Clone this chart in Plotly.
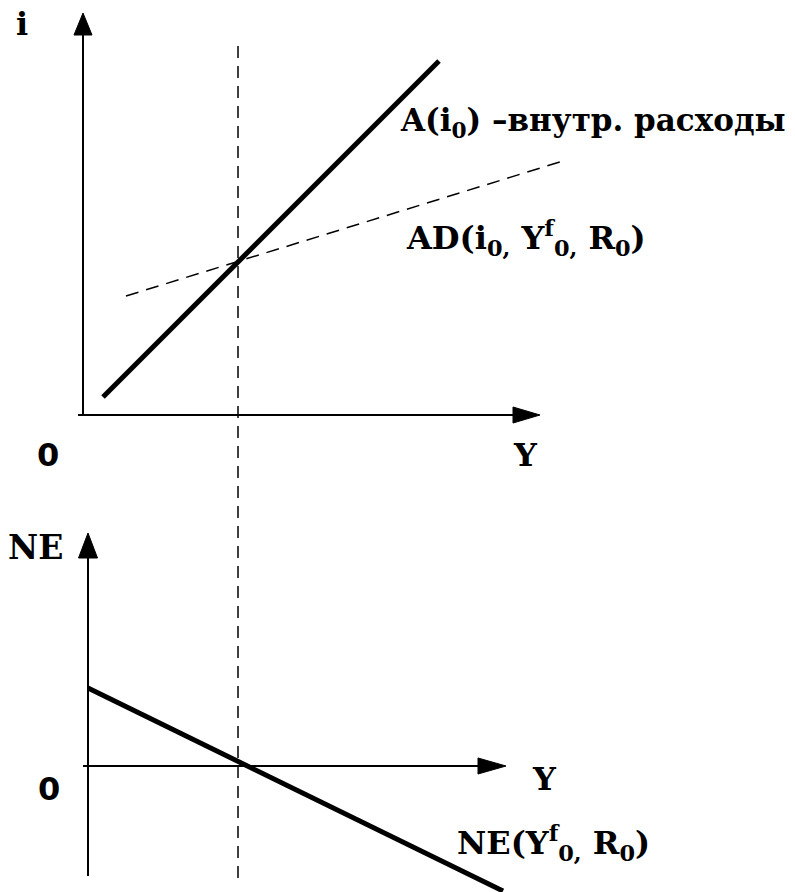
import plotly.graph_objects as go

# ---------------- data (diagram units) ----------------
# top panel: i vs Y
A_Y = [2.0, 35.6]          # A(i0) – domestic expenditure line
A_I = [1.8, 35.4]
AD_Y = [4.3, 48.0]         # AD(i0, Yf0, R0) dashed line
AD_I = [11.9, 25.4]
TOP_I_AXIS = [0.0, 40.2]   # vertical axis extent (at Y = 0)
TOP_Y_AXIS = [-0.5, 45.7]  # horizontal axis extent (at i = 0)

# bottom panel: NE vs Y
NE_Y = [0.5, 42.0]
NE_V = [7.8, -12.5]
BOT_AXIS_X = 0.5
BOT_NE_AXIS = [-11.0, 23.3]
BOT_Y_AXIS = [0.0, 42.3]

Y0 = 15.5                  # equilibrium output (vertical dashed line)

# ---------------- layout geometry ----------------
W, H = 795, 892
X_RANGE = [-8.3, 71.2]
SPLIT = 460 / H
TOP_DOMAIN = [1 - SPLIT, 1.0]
BOT_DOMAIN = [0.0, 1 - SPLIT]
TOP_RANGE = [-4.5, 41.5]
BOT_RANGE = [-12.6, 30.6]

PX_X = W / (X_RANGE[1] - X_RANGE[0])                     # px per x unit
PX_TOP = H * (TOP_DOMAIN[1] - TOP_DOMAIN[0]) / (TOP_RANGE[1] - TOP_RANGE[0])
PX_BOT = H * (BOT_DOMAIN[1] - BOT_DOMAIN[0]) / (BOT_RANGE[1] - BOT_RANGE[0])

SERIF = "DejaVu Serif, Liberation Serif, serif"
SANS = "DejaVu Sans, Liberation Sans, sans-serif"
BLACK = "#000000"

fig = go.Figure()


def line(x, y, yaxis, width, dash="solid"):
    fig.add_trace(go.Scatter(x=x, y=y, mode="lines", xaxis="x", yaxis=yaxis,
                             line=dict(color=BLACK, width=width, dash=dash),
                             hoverinfo="skip", showlegend=False))


def arrowhead(tx, ty, direction, length_px, width_px, yaxis, pxy):
    if direction == "up":
        xs = [tx - width_px / 2 / PX_X, tx + width_px / 2 / PX_X, tx, tx - width_px / 2 / PX_X]
        ys = [ty - length_px / pxy, ty - length_px / pxy, ty, ty - length_px / pxy]
    else:
        xs = [tx - length_px / PX_X, tx - length_px / PX_X, tx, tx - length_px / PX_X]
        ys = [ty - width_px / 2 / pxy, ty + width_px / 2 / pxy, ty, ty - width_px / 2 / pxy]
    fig.add_trace(go.Scatter(x=xs, y=ys, mode="lines", fill="toself", xaxis="x", yaxis=yaxis,
                             fillcolor=BLACK, line=dict(color=BLACK, width=1),
                             hoverinfo="skip", showlegend=False))


# top panel axes
line([0, 0], [TOP_I_AXIS[0], TOP_I_AXIS[1] - 1.0], "y", 2)
arrowhead(0, TOP_I_AXIS[1], "up", 22, 18, "y", PX_TOP)
line([TOP_Y_AXIS[0], TOP_Y_AXIS[1] - 1.0], [0, 0], "y", 2)
arrowhead(TOP_Y_AXIS[1], 0, "right", 27, 16, "y", PX_TOP)

# top panel curves
line(AD_Y, AD_I, "y", 1.5, dash="13px,8px")
line(A_Y, A_I, "y", 5)

# bottom panel axes
line([BOT_AXIS_X, BOT_AXIS_X], [BOT_NE_AXIS[0], BOT_NE_AXIS[1] - 1.0], "y2", 2)
arrowhead(BOT_AXIS_X, BOT_NE_AXIS[1], "up", 25, 19, "y2", PX_BOT)
line([BOT_Y_AXIS[0], BOT_Y_AXIS[1] - 1.0], [0, 0], "y2", 2)
arrowhead(BOT_Y_AXIS[1], 0, "right", 28, 16, "y2", PX_BOT)

# bottom panel curve
line(NE_Y, NE_V, "y2", 5)

# vertical dashed line through both panels at Y0
fig.add_shape(type="line", xref="x", yref="paper", x0=Y0, x1=Y0,
              y0=(H - 878) / H, y1=(H - 40) / H,
              line=dict(color=BLACK, width=1.5, dash="12px,8px"))

# ---------------- labels ----------------
def label(text, x, y, yref, family=SERIF, size=32, xanchor="center"):
    fig.add_annotation(text=text, x=x, y=y, xref="x", yref=yref, showarrow=False,
                       xanchor=xanchor, yanchor="middle",
                       font=dict(family=family, size=size, color=BLACK))


label("<b>i</b>", -6.1, 39.1, "y")
label("<b>0</b>", -3.5, -4.0, "y", family=SANS, size=32)
label("<b>Y</b>", 44.2, -4.0, "y")
label("<b>A(i<sub>0</sub>) –внутр. расходы</b>", 31.5, 29.3, "y", size=31, xanchor="left")
label("<b>AD(i<sub>0,</sub> Y<sup>f</sup><sub>0,</sub> R<sub>0</sub>)</b>", 32.1, 17.7, "y", xanchor="left")

label("<b>NE</b>", -4.8, 21.9, "y2", size=33)
label("<b>0</b>", -3.4, -2.3, "y2", family=SANS, size=32)
label("<b>Y</b>", 46.1, -1.3, "y2")
label("<b>NE(Y<sup>f</sup><sub>0,</sub> R<sub>0</sub>)</b>", 37.2, -7.7, "y2", xanchor="left")

hidden = dict(visible=False, showgrid=False, zeroline=False, fixedrange=True)
fig.update_layout(
    width=W, height=H,
    margin=dict(l=0, r=0, t=0, b=0),
    paper_bgcolor="white", plot_bgcolor="white",
    showlegend=False, hovermode=False,
    xaxis=dict(range=X_RANGE, domain=[0, 1], **hidden),
    yaxis=dict(range=TOP_RANGE, domain=TOP_DOMAIN, **hidden),
    yaxis2=dict(range=BOT_RANGE, domain=BOT_DOMAIN, **hidden),
)

fig.write_html("out.html", config={"displayModeBar": False},
               post_script="document.body.style.margin='0';document.body.style.overflow='hidden';")
